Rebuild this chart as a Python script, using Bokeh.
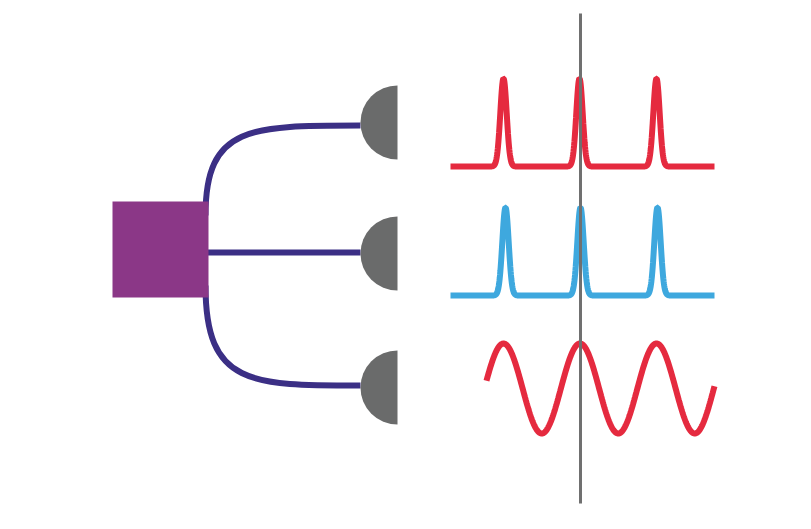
import numpy as np
from bokeh.plotting import figure
from bokeh.models import Range1d
from bokeh.embed import file_html
from bokeh.resources import INLINE

# source block and fibres
box = dict(x=160, y=249, size=96)
fibre_ends_y = [125, 252, 385]
detector_x = 397
detector_y = [122, 253, 387]
detector_r = 37

# pulse trains
peak_x_red = [503, 579, 656]
peak_x_blue = [505, 580, 657]
pulse_base = [166, 295]
pulse_top = [78, 207]
trace_x = (450, 714)

# sine fringe
sine_crests = [503, 579, 656]
sine_mid = 388
sine_amp = 45
sine_span = (486, 714)

ref_x = 580
ref_y = (13, 503)

RED = "#E52A3F"
BLUE = "#3EA8DE"
NAVY = "#3B2F85"
GREY = "#6A6B6B"

p = figure(width=795, height=513, x_range=Range1d(0, 795), y_range=Range1d(513, 0),
           output_backend="svg", toolbar_location=None, min_border=0)
p.axis.visible = False
p.grid.visible = False
p.outline_line_color = None

# fibres
p.bezier(x0=[205], y0=[215], x1=[360], y1=[fibre_ends_y[0]], cx0=[205], cy0=[fibre_ends_y[0]],
         cx1=[250], cy1=[fibre_ends_y[0]], line_color=NAVY, line_width=6)
p.segment(x0=[205], y0=[fibre_ends_y[1]], x1=[360], y1=[fibre_ends_y[1]], line_color=NAVY, line_width=6)
p.bezier(x0=[205], y0=[285], x1=[360], y1=[fibre_ends_y[2]], cx0=[205], cy0=[fibre_ends_y[2]],
         cx1=[250], cy1=[fibre_ends_y[2]], line_color=NAVY, line_width=6)

p.rect(x=[box["x"]], y=[box["y"]], width=box["size"], height=box["size"], fill_color="#8B3787",
       line_color=None)

p.wedge(x=[detector_x] * 3, y=detector_y, radius=detector_r, start_angle=np.pi / 2,
        end_angle=3 * np.pi / 2, fill_color=GREY, line_color=None)

xs = np.linspace(trace_x[0], trace_x[1], 800)
for peaks, base, top, col in [(peak_x_red, pulse_base[0], pulse_top[0], RED),
                              (peak_x_blue, pulse_base[1], pulse_top[1], BLUE)]:
    ys = np.full_like(xs, float(base))
    for px in peaks:
        ys -= (base - top) * np.exp(-((xs - px) ** 2) / (2 * 3.2 ** 2))
    p.line(xs, ys, line_color=col, line_width=6)

period = sine_crests[1] - sine_crests[0]
sx = np.linspace(sine_span[0], sine_span[1], 500)
sy = sine_mid - sine_amp * np.cos(2 * np.pi * (sx - sine_crests[0]) / (period + 0.5))
p.line(sx, sy, line_color=RED, line_width=6)

p.segment(x0=[ref_x], y0=[ref_y[0]], x1=[ref_x], y1=[ref_y[1]], line_color="#707070", line_width=3)

open("out.html", "w").write(file_html(p, INLINE))
